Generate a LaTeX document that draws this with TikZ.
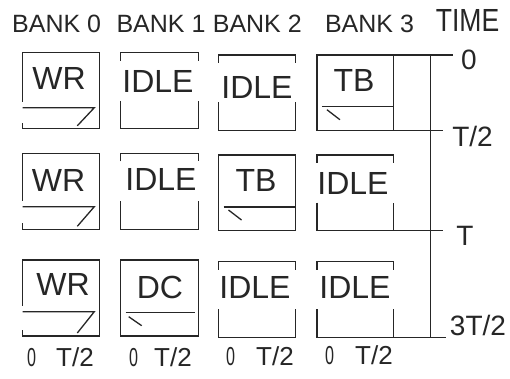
\documentclass[tikz,border=0pt]{standalone}
\usepackage{fontspec}
\setmainfont{Liberation Sans}
\usepackage{graphicx}
\tikzset{
  boxline/.style={line width=1.3pt, line join=miter, draw=black!85},
  boxtxt/.style={anchor=base, inner sep=0pt, text=black!85, font=\fontsize{32}{36}\selectfont},
  hdr/.style={anchor=base, inner sep=0pt, text=black!85, font=\fontsize{25}{30}\selectfont},
  tlab/.style={anchor=base, inner sep=0pt, text=black!85, font=\fontsize{28}{32}\selectfont},
  blab/.style={anchor=base, inner sep=0pt, text=black!85, font=\fontsize{26}{30}\selectfont}
}
% #1 L, #2 T, #3 R, #4 B, #5 inner line y
\newcommand\WRbox[5]{%
  \draw[boxline] (#1,#5-6) -- (#1,#2) -- (#3,#2) -- (#3,#4) -- (#1,#4) -- (#1,#4-6);
  \draw[boxline] (#1,#5) -- (#3-5,#5) -- (#3-22,#4-3);}
\newcommand\IDLEbox[4]{%
  \draw[boxline] (#1,#2+8) -- (#1,#2) -- (#3,#2) -- (#3,#2+8);
  \draw[boxline] (#1,#4-28) -- (#1,#4) -- (#3,#4) -- (#3,#4-28);}
\newcommand\TBbox[5]{%
  \draw[boxline] (#1,#2) rectangle (#3,#4);
  \draw[boxline] (#1+5,#5) -- (#3,#5);
  \draw[boxline] (#1+10,#5+3) -- (#1+23,#5+13);}
\newcommand\DCbox[5]{%
  \draw[boxline] (#1,#2) rectangle (#3,#4);
  \draw[boxline] (#1+5,#5) -- (#3-3,#5);
  \draw[boxline] (#1+8,#5+4) -- (#1+21,#5+13);}
\begin{document}
\begin{tikzpicture}[x=1pt,y=-1pt]
\useasboundingbox (0,0) rectangle (510,379);
\fill[white] (0,0) rectangle (510,379);

% headers
\node[hdr] (h0) at (56.7,33) {BANK 0};
\node[hdr] (h1) at (161,33) {BANK 1};
\node[hdr] (h2) at (257.3,33) {BANK 2};
\node[hdr] (h3) at (369.5,33) {BANK 3};
\node[boxtxt] (htime) at (467.5,31.7) {\scalebox{0.83}[1]{TIME}};

% row 1
\WRbox{22.5}{52.7}{99.3}{128.8}{107.7}
\IDLEbox{120.7}{52.7}{198.3}{128.8}
\IDLEbox{218.5}{55}{295.3}{130.5}
\TBbox{316.9}{55}{393.6}{130.5}{106.7}
\node[boxtxt] (t00) at (59,90) {WR};
\node[boxtxt] (t01) at (158,93) {IDLE};
\node[boxtxt] (t02) at (257,98.3) {IDLE};
\node[boxtxt] (t03) at (354,91.7) {TB};

% row 2
\WRbox{22.5}{153.3}{99.3}{229.3}{206.7}
\IDLEbox{120.7}{153.3}{198.3}{229.3}
\TBbox{218.5}{155}{295.3}{230.7}{207}
\IDLEbox{316.9}{155}{393.6}{230.7}
\node[boxtxt] (t10) at (58.5,191.7) {WR};
\node[boxtxt] (t11) at (161,190) {IDLE};
\node[boxtxt] (t12) at (256,191.7) {TB};
\node[boxtxt] (t13) at (353,194) {IDLE};

% row 3
\WRbox{22.5}{260}{99.3}{336}{311.7}
\DCbox{120.7}{260}{198.3}{336}{312.7}
\IDLEbox{218.5}{261.7}{295.3}{337.3}
\IDLEbox{316.9}{261.7}{393.6}{337.3}
\node[boxtxt] (t20) at (63,295) {WR};
\node[boxtxt] (t21) at (160,298.3) {DC};
\node[boxtxt] (t22) at (255,298.3) {IDLE};
\node[boxtxt] (t23) at (355,298.3) {IDLE};

% time axis
\coordinate (a0) at (430.5,55);
\coordinate (a3) at (430.5,337.3);
\draw[boxline] (a0) -- (a3);
\draw[boxline] (393.6,55) -- (453,55);
\draw[boxline] (393.6,130.5) -- (443,130.5);
\draw[boxline] (393.6,230.7) -- (443,230.7);
\draw[boxline] (393.6,337.3) -- (446,337.3);
\node[tlab] (l0) at (469,70) {0};
\node[tlab] (l1) at (472.5,146.7) {T/2};
\node[tlab] (l2) at (465,245) {T};
\node[tlab] (l3) at (478,335) {3T/2};

% bottom labels
\node[blab] (z0) at (31.5,366) {\scalebox{0.62}[1]{0}};
\node[blab] (s0) at (75,366) {T/2};
\node[blab] (z1) at (133.5,366) {\scalebox{0.62}[1]{0}};
\node[blab] (s1) at (173,366) {T/2};
\node[blab] (z2) at (230.5,365) {\scalebox{0.62}[1]{0}};
\node[blab] (s2) at (275,365) {T/2};
\node[blab] (z3) at (329.7,364) {\scalebox{0.62}[1]{0}};
\node[blab] (s3) at (374,364) {T/2};
\end{tikzpicture}
\end{document}
